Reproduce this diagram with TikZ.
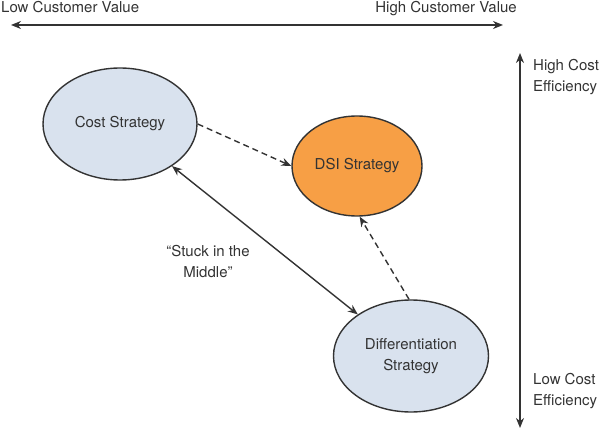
\documentclass[tikz,border=0pt]{standalone}
\usepackage{fontspec}
\setmainfont{TeX Gyre Heros}
\usepackage{xcolor}
\usetikzlibrary{arrows.meta,positioning,shapes.geometric}
\definecolor{strategyblue}{HTML}{D9E2EE}
\definecolor{dsiorange}{HTML}{F79F45}
\definecolor{linegray}{HTML}{333333}
\begin{document}
\begin{tikzpicture}[x=1pt,y=-1pt, every node/.style={font=\fontsize{15}{21}\selectfont,text=linegray},
  oval/.style={draw=linegray,ellipse,line width=1.4pt,inner sep=0pt,align=center},
  axis/.style={draw=linegray,line width=1.6pt,{Stealth[length=10pt,width=8pt]}-{Stealth[length=10pt,width=8pt]}},
  link/.style={draw=linegray,line width=1.4pt,-{Stealth[length=10pt,width=8pt]}},
  lbl/.style={inner sep=0pt,align=left}]
\useasboundingbox (0,0) rectangle (602,430);
\node[oval,fill=strategyblue,minimum width=154pt,minimum height=112pt] (cost) at (120,124) {Cost Strategy};
\node[oval,fill=dsiorange,minimum width=130pt,minimum height=100pt] (dsi) at (357,166) {DSI Strategy};
\node[oval,fill=strategyblue,minimum width=155pt,minimum height=112pt] (diff) at (411,356) {Differentiation\\Strategy};
\node[lbl,align=center] (stuck) at (208,262) {``Stuck in the\\Middle''};
% axes
\coordinate (xl) at (11,25); \coordinate (xr) at (503,25);
\coordinate (yt) at (520,53); \coordinate (yb) at (520,428);
\draw[axis] (xl)--(xr);
\draw[axis] (yt)--(yb);
\node[lbl,anchor=north west] (low) at (1,1) {Low Customer Value};
\node[lbl,anchor=north east] (high) at (517,1) {High Customer Value};
\node[lbl,anchor=west] (hce) at (533,77) {High Cost\\Efficiency};
\node[lbl,anchor=west] (lce) at (533,391) {Low Cost\\Efficiency};
% links
\draw[link,dash pattern=on 6pt off 4pt] (cost.east)--(dsi.west);
\draw[link,{Stealth[length=10pt,width=8pt]}-{Stealth[length=10pt,width=8pt]}] (cost.-39)--(diff.142);
\draw[link,dash pattern=on 6pt off 4pt] (diff.92)--(dsi.-87);
\end{tikzpicture}
\end{document}
